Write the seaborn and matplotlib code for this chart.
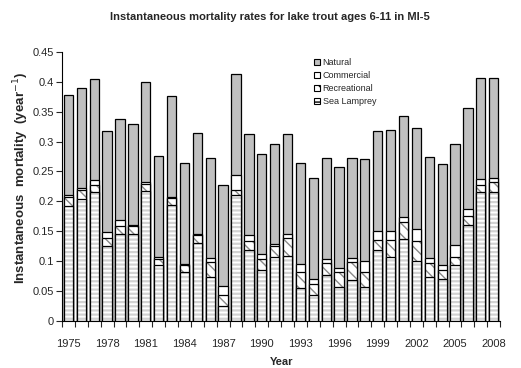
import matplotlib
matplotlib.use("Agg")
import matplotlib.pyplot as plt
from matplotlib.patches import Patch
import numpy as np
import pandas as pd
import seaborn as sns

years = list(range(1975, 2009))

sea_lamprey = [0.193, 0.204, 0.216, 0.126, 0.146, 0.146, 0.218, 0.093, 0.194, 0.082,
               0.131, 0.074, 0.025, 0.210, 0.119, 0.085, 0.107, 0.109, 0.055, 0.043,
               0.077, 0.057, 0.069, 0.057, 0.119, 0.107, 0.137, 0.101, 0.074, 0.070,
               0.093, 0.160, 0.215, 0.215]
recreational = [0.014, 0.015, 0.012, 0.012, 0.012, 0.012, 0.011, 0.011, 0.012, 0.011,
                0.012, 0.024, 0.018, 0.009, 0.014, 0.018, 0.019, 0.029, 0.026, 0.018,
                0.020, 0.024, 0.030, 0.024, 0.017, 0.029, 0.029, 0.032, 0.023, 0.015,
                0.014, 0.016, 0.013, 0.018]
commercial = [0.003, 0.003, 0.007, 0.010, 0.011, 0.002, 0.003, 0.003, 0.002, 0.002,
              0.002, 0.007, 0.016, 0.025, 0.010, 0.009, 0.002, 0.008, 0.015, 0.009,
              0.006, 0.007, 0.006, 0.020, 0.014, 0.015, 0.008, 0.020, 0.009, 0.009,
              0.020, 0.011, 0.010, 0.006]
natural = [0.168, 0.167, 0.169, 0.169, 0.169, 0.169, 0.168, 0.169, 0.169, 0.169,
           0.169, 0.168, 0.168, 0.169, 0.169, 0.168, 0.168, 0.167, 0.168, 0.169,
           0.169, 0.169, 0.168, 0.169, 0.168, 0.169, 0.168, 0.169, 0.168, 0.168,
           0.169, 0.169, 0.168, 0.168]

sns.set_style("ticks")
plt.rcParams["font.family"] = ["Liberation Sans", "DejaVu Sans"]

df = pd.DataFrame({"year": years})
df["sl"] = sea_lamprey
df["rec"] = df["sl"] + np.array(recreational)
df["comm"] = df["rec"] + np.array(commercial)
df["total"] = df["comm"] + np.array(natural)

fig, ax = plt.subplots(figsize=(5.21, 3.68), dpi=100)
fig.subplots_adjust(left=0.119, right=0.96, bottom=0.128, top=0.859)

GRAY = "#c0c0c0"
REC_HATCH = "#8a8a8a"
SL_HATCH = "#d2d2d2"
W = 0.72

# (column, face, hatch, hatch colour, hatch width) drawn from top of stack downwards
layers = [
    ("total", GRAY, None, None, 1.0),
    ("comm", "white", None, None, 1.0),
    ("rec", "white", "\\\\\\", REC_HATCH, 1.0),
    ("sl", "white", "----", SL_HATCH, 1.6),
]

for col, face, hatch, hc, hw in layers:
    with plt.rc_context({"hatch.linewidth": hw}):
        if hatch:
            sns.barplot(data=df, x="year", y=col, color=face, saturation=1, width=W,
                        hatch=hatch, edgecolor=hc, linewidth=0, errorbar=None, ax=ax)
        else:
            sns.barplot(data=df, x="year", y=col, color=face, saturation=1, width=W,
                        linewidth=0, errorbar=None, ax=ax)
    sns.barplot(data=df, x="year", y=col, color="black", fill=False, width=W,
                linewidth=0.9, errorbar=None, ax=ax)

ax.set_xlim(-0.5, len(years) - 0.5)
ax.set_xticks(range(0, len(years), 3))
ax.set_xticklabels(years[::3])
ax.set_xticks(np.arange(-0.5, len(years), 1), minor=True)
ax.tick_params(axis="x", which="major", length=0, labelsize=8, pad=13)
ax.tick_params(axis="x", which="minor", length=4, width=0.8, direction="out")

yt = np.round(np.arange(0, 0.451, 0.05), 2)
ax.set_ylim(0, 0.45)
ax.set_yticks(yt)
ax.set_yticklabels([f"{v:g}" for v in yt])
ax.tick_params(axis="y", length=4, width=0.8, labelsize=8, pad=2)

for s in ["top", "right"]:
    ax.spines[s].set_visible(False)
for s in ["left", "bottom"]:
    ax.spines[s].set_linewidth(0.8)
    ax.spines[s].set_color("black")

ax.set_xlabel("")
ax.set_ylabel("")
fig.text(0.518, 0.953, "Instantaneous mortality rates for lake trout ages 6-11 in MI-5",
         ha="center", va="center", fontsize=8, fontweight="bold",
         family=["Liberation Sans Narrow", "Liberation Sans"])
fig.text(0.54, 0.016, "Year", ha="center", va="center", fontsize=8, fontweight="bold")
fig.text(0.040, 0.516, r"Instantaneous  mortality  (year$^{-1}$)", rotation=90,
         ha="center", va="center", fontsize=9.5, fontweight="bold")

handles = [
    Patch(facecolor=GRAY, edgecolor="black", linewidth=0.8, label="Natural"),
    Patch(facecolor="white", edgecolor="black", linewidth=0.8, label="Commercial"),
    Patch(facecolor="white", edgecolor="black", linewidth=0.8, hatch="\\\\\\", label="Recreational"),
    Patch(facecolor="white", edgecolor="black", linewidth=0.8, hatch="----", label="Sea Lamprey"),
]
ax.legend(handles=handles, loc="upper left", bbox_to_anchor=(0.56, 1.0), frameon=False,
          prop={"family": ["Liberation Sans Narrow", "Liberation Sans"], "size": 6.5},
          handlelength=0.7, handleheight=0.7, handletextpad=0.3, labelspacing=0.45,
          borderpad=0.2)

fig.savefig("out.png", dpi=100)
